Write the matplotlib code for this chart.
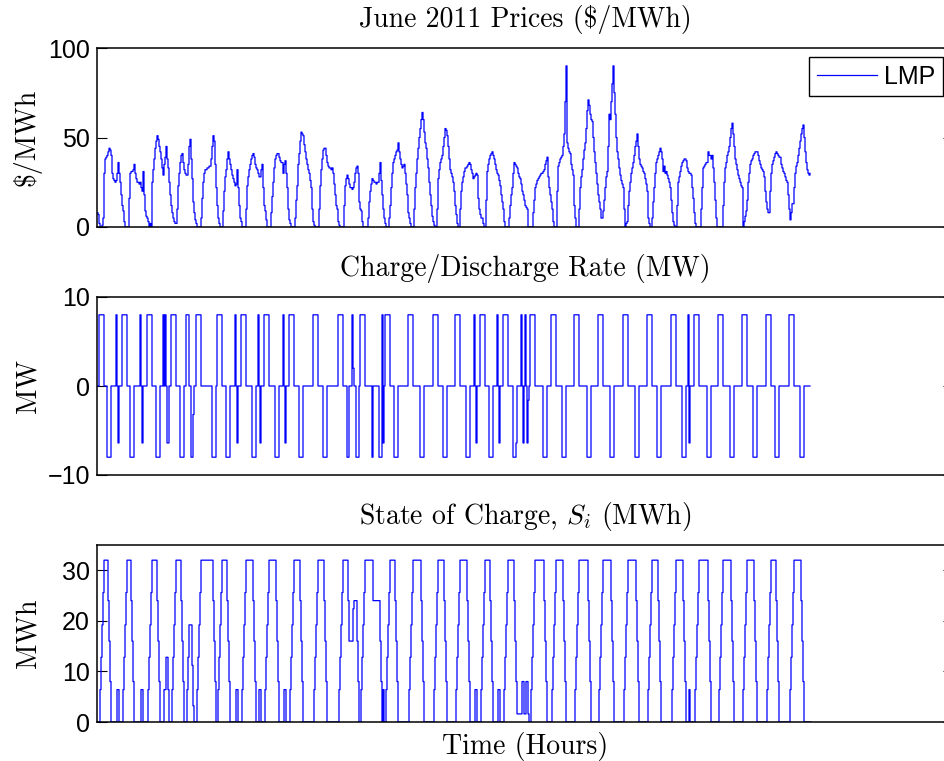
import numpy as np
import matplotlib
matplotlib.use("Agg")
import matplotlib.pyplot as plt

plt.rcParams['font.family'] = ['Liberation Sans', 'DejaVu Sans']
plt.rcParams['mathtext.fontset'] = 'cm'

# hourly LMP, June 2011, one row per day ($/MWh)
lmp_days = [
    [8, 7, 2, 0, 0, 1, 5, 30, 38, 39, 40, 42, 44, 43, 40, 30, 27, 26, 25, 26, 30, 36, 30, 25],
    [18, 12, 9, 3, 0, 0, 0, 0, 16, 30, 31, 31, 32, 35, 30, 27, 25, 25, 24, 25, 22, 20, 31, 18],
    [9, 6, 5, 3, 0, 2, 0, 25, 32, 38, 44, 48, 51, 49, 45, 42, 38, 33, 29, 35, 39, 45, 38, 33],
    [25, 18, 12, 8, 5, 3, 2, 2, 10, 23, 30, 36, 40, 41, 36, 32, 30, 29, 29, 35, 45, 49, 38, 27],
    [14, 8, 4, 2, 0, 0, 0, 0, 5, 16, 25, 30, 32, 32, 33, 33, 34, 34, 38, 45, 51, 48, 35, 22],
    [12, 5, 2, 0, 0, 0, 9, 20, 28, 32, 38, 42, 38, 35, 32, 29, 27, 25, 23, 24, 32, 22, 12, 5],
    [3, 0, 0, 0, 0, 10, 23, 28, 32, 35, 38, 40, 41, 39, 35, 33, 32, 30, 28, 28, 32, 35, 22, 12],
    [9, 4, 0, 0, 0, 0, 8, 17, 25, 33, 38, 40, 41, 41, 39, 37, 36, 36, 30, 35, 37, 30, 22, 10],
    [4, 2, 0, 0, 0, 0, 5, 15, 23, 35, 41, 48, 53, 52, 51, 46, 42, 38, 35, 32, 30, 26, 22, 10],
    [3, 1, 0, 0, 0, 0, 10, 23, 32, 38, 43, 44, 44, 40, 36, 34, 33, 33, 32, 33, 30, 24, 18, 12],
    [10, 3, 1, 0, 0, 0, 0, 12, 23, 27, 29, 27, 24, 22, 22, 21, 22, 25, 30, 33, 34, 30, 14, 10],
    [9, 3, 0, 0, 0, 0, 0, 5, 14, 20, 24, 27, 26, 25, 25, 24, 25, 25, 30, 36, 26, 18, 10, 5],
    [2, 0, 0, 0, 5, 12, 22, 30, 36, 38, 40, 42, 43, 47, 42, 38, 35, 33, 34, 35, 30, 24, 18, 8],
    [5, 2, 0, 0, 0, 10, 22, 30, 38, 44, 50, 55, 60, 64, 60, 53, 47, 44, 38, 33, 25, 18, 12, 6],
    [3, 1, 0, 0, 10, 27, 32, 36, 38, 40, 45, 50, 55, 54, 51, 45, 38, 32, 30, 28, 25, 20, 12, 7],
    [2, 0, 0, 10, 20, 25, 28, 31, 33, 33, 34, 35, 36, 35, 32, 30, 27, 28, 29, 30, 29, 16, 10, 7],
    [5, 5, 2, 0, 0, 15, 31, 35, 38, 40, 41, 42, 40, 38, 35, 32, 30, 29, 26, 23, 18, 14, 10, 3],
    [0, 0, 0, 0, 5, 12, 18, 22, 30, 36, 35, 34, 33, 30, 28, 27, 24, 20, 18, 15, 12, 11, 10, 0],
    [0, 0, 0, 0, 8, 15, 22, 24, 26, 27, 28, 29, 30, 30, 31, 32, 35, 37, 39, 28, 22, 18, 14, 10],
    [3, 0, 0, 0, 20, 34, 36, 38, 39, 40, 45, 52, 70, 90, 47, 44, 42, 41, 35, 32, 29, 12, 5, 0],
    [0, 0, 10, 22, 28, 32, 38, 43, 47, 55, 65, 71, 68, 63, 60, 59, 50, 42, 36, 30, 24, 18, 14, 10],
    [5, 5, 9, 15, 22, 28, 31, 45, 63, 60, 70, 80, 90, 75, 63, 50, 42, 38, 33, 29, 26, 24, 22, 10],
    [0, 2, 3, 12, 20, 25, 30, 33, 36, 40, 45, 48, 52, 45, 38, 35, 34, 33, 31, 30, 27, 24, 20, 5],
    [2, 0, 0, 5, 14, 22, 30, 36, 38, 40, 42, 44, 42, 38, 31, 34, 30, 31, 29, 27, 25, 22, 15, 8],
    [3, 1, 0, 0, 12, 25, 28, 31, 34, 36, 37, 38, 38, 37, 33, 31, 30, 30, 29, 22, 16, 8, 2, 0],
    [0, 0, 0, 0, 10, 22, 33, 34, 35, 36, 36, 42, 40, 40, 38, 40, 33, 25, 15, 5, 0, 0, 0, 0],
    [0, 0, 12, 25, 33, 36, 40, 42, 45, 50, 55, 58, 52, 45, 38, 35, 32, 29, 27, 25, 23, 22, 0, 3],
    [6, 9, 15, 25, 30, 35, 37, 38, 40, 41, 42, 42, 42, 40, 37, 35, 33, 32, 31, 28, 20, 14, 10, 8],
    [8, 20, 30, 35, 37, 39, 41, 42, 41, 40, 39, 39, 35, 33, 31, 30, 28, 26, 25, 18, 10, 4, 8, 13],
    [13, 22, 30, 34, 36, 40, 44, 48, 52, 55, 57, 50, 42, 36, 32, 30, 29, 30],
]

# storage schedule (hour index where each full block begins)
charge_start = [2, 25, 50, 74, 99, 120, 144, 167, 192, 216, 241, 263, 288, 311, 336,
                358, 383, 406, 433, 454, 477, 501, 526, 550, 574, 597, 621, 645, 669, 692]
discharge_start = [10, 33, 59, 83, 115, 129, 155, 178, 202, 226, 297, 323, 346, 369, 392,
                   446, 465, 490, 513, 538, 560, 585, 610, 633, 656, 678, 703]
# single-hour moves outside the full blocks (MW)
extra_hours = [19, 21, 43, 45, 66, 68, 70, 71, 89, 90, 91, 94, 95, 96, 138, 140, 161, 163,
               186, 188, 250, 251, 255, 256, 259, 260, 261, 275, 282, 283, 284, 285, 286,
               377, 379, 400, 402, 416, 417, 418, 419, 424, 426, 428, 430, 431, 591, 592]
extra_rates = [8, -6.4, 8, -6.4, 8, 8, -6.4, -6.4, 8, 8, 8, -8, -8, -3.2, 8, -6.4, 8, -6.4,
               8, -6.4, -8, -8, 8, 2, -8, -8, -8, -8, -8, -8, -8, 8, -6.4,
               8, -6.4, 8, -6.4, -8, -8, -8, -6.4, 8, -6.4, 8, -6.4, -1.6, 8, -6.4]
rate_mw = 8
eff = 0.8

lmp = np.concatenate([np.array(d, dtype=float) for d in lmp_days])
hours = np.arange(len(lmp))

rate = np.zeros(len(lmp))
for h in charge_start:
    rate[h:h + 5] = rate_mw
for h in discharge_start:
    rate[h:h + 4] = -rate_mw
for h, v in zip(extra_hours, extra_rates):
    rate[h] = v
soc = np.concatenate([[0], np.cumsum(np.where(rate > 0, eff * rate, rate))])
soc_x = np.arange(len(soc))

fig = plt.figure(figsize=(9.45, 7.61), dpi=100)
L, W = 97 / 945, 856 / 945
ax1 = fig.add_axes([L, 534 / 761, W, 179 / 761])
ax2 = fig.add_axes([L, 286 / 761, W, 178 / 761])
ax3 = fig.add_axes([L, 39 / 761, W, 177 / 761])

cm = dict(fontfamily='cmr10', fontsize=20)
blue = (0, 0, 1)

ax1.step(hours, lmp, where='post', color=blue, lw=0.9, label='LMP')
ax1.set_ylim(0, 100)
ax1.set_yticks([0, 50, 100])
ax1.set_title(r'June 2011 Prices (\$/MWh)', pad=15, **cm)
ax1.set_ylabel(r'\$/MWh', **cm)
leg = ax1.legend(loc='upper right', bbox_to_anchor=(943 / 945, 1 - 57 / 761),
                 bbox_transform=fig.transFigure, borderaxespad=0, fancybox=False,
                 edgecolor='black', framealpha=1, fontsize=18, handlelength=2.4,
                 handletextpad=0.3, borderpad=0.3)
leg.get_frame().set_linewidth(1.0)

ax2.step(hours, rate, where='post', color=blue, lw=0.9)
ax2.set_ylim(-10, 10)
ax2.set_yticks([-10, 0, 10])
ax2.set_title('Charge/Discharge Rate (MW)', pad=15, **cm)
ax2.set_ylabel('MW', **cm)

ax3.step(soc_x, soc, where='post', color=blue, lw=0.9)
ax3.set_ylim(0, 35)
ax3.set_yticks([0, 10, 20, 30])
ax3.set_title(r'State of Charge, $S_i$ (MWh)', pad=15, **cm)
ax3.set_ylabel('MWh', **cm)
ax3.set_xlabel('Time (Hours)', **cm)
ax3.xaxis.set_label_coords(0.5, -0.055)

for ax in (ax1, ax2, ax3):
    ax.set_xlim(0, 856)
    ax.set_xticks([])
    ax.tick_params(axis='y', direction='in', length=7, width=0.8, right=True,
                   labelsize=18, pad=5)
    ax.yaxis.set_label_coords(-0.065, 0.5)
    for s in ax.spines.values():
        s.set_linewidth(1.1)

fig.savefig('out.png', dpi=100)
